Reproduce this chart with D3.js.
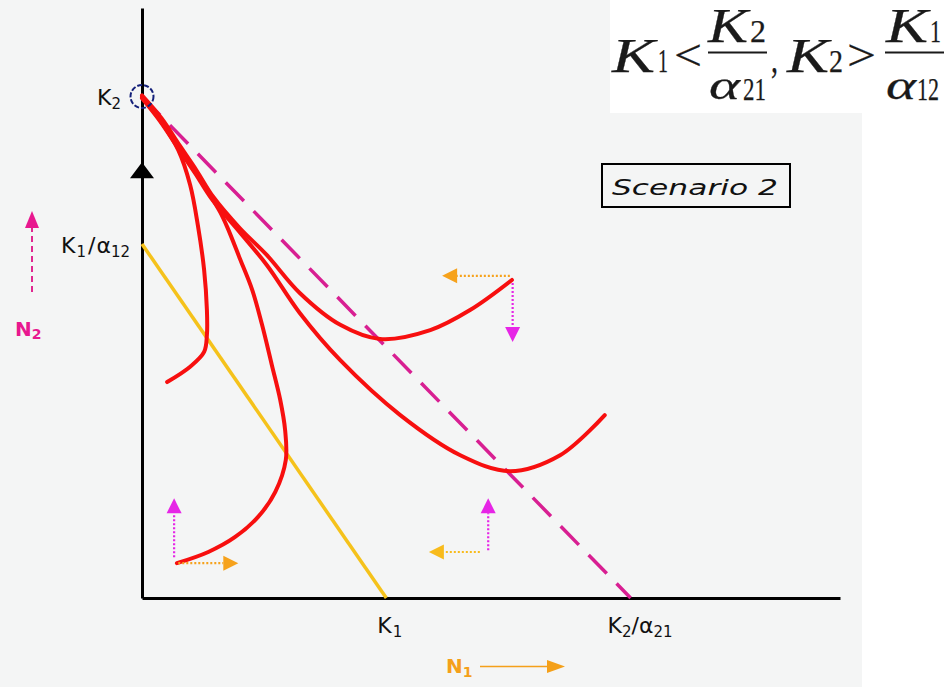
<!DOCTYPE html>
<html lang="en">
<head>
  <meta charset="UTF-8">
  <title>Competition phase plane - scenario 2</title>
  <script src="https://d3js.org/d3.v7.min.js"></script>
  <style>
    body { margin: 0; background: #fff; }
    svg { display: block; }
  </style>
</head>
<body>
<script>
  // carrying capacities / isocline intercepts (arbitrary N units)
  const K1 = 3.5
  const K2 = 8.5
  const K1overA12 = 6
  const K2overA21 = 7

  // red trajectories, [N1, N2], all ending at (0, K2)
  const traj1 = [[0.36,3.66],[0.69,3.92],[0.89,4.17],[0.93,4.46],[0.93,4.88],[0.89,5.56],[0.80,6.32],[0.69,7.0],[0.52,7.59],[0.26,8.10],[0,8.49]]
  const traj2 = [[0.50,0.59],[0.95,0.78],[1.33,1.03],[1.66,1.37],[1.91,1.80],[2.06,2.34],[2.05,2.85],[1.98,3.36],[1.86,3.95],[1.72,4.63],[1.58,5.22],[1.40,5.76],[1.22,6.29],[1.12,6.54],[1.0,6.78],[0.76,7.22],[0.52,7.64],[0.26,8.10],[0,8.49]]
  const traj3 = [[5.30,5.39],[4.70,4.88],[4.13,4.54],[3.41,4.39],[2.84,4.63],[2.26,5.17],[1.79,5.81],[1.40,6.27],[1.02,6.80],[0.78,7.25],[0.54,7.67],[0.28,8.13],[0,8.52]]
  const traj4 = [[6.63,3.10],[5.99,2.42],[5.27,2.15],[4.56,2.42],[3.70,3.10],[2.84,4.03],[2.26,4.83],[1.79,5.64],[1.40,6.20],[1.0,6.76],[0.76,7.20],[0.52,7.62],[0.26,8.08],[0,8.47]]

  // little dotted direction arrows: from -> tip
  const dirArrows = [
    { from: [5.27, 5.46], to: [4.30, 5.46], color: '#f6a21c' },
    { from: [5.31, 5.34], to: [5.31, 4.34], color: '#e625e6' },
    { from: [0.46, 0.69], to: [0.46, 1.69], color: '#e625e6' },
    { from: [0.52, 0.59], to: [1.38, 0.59], color: '#f6a21c' },
    { from: [4.96, 0.81], to: [4.96, 1.69], color: '#e625e6' },
    { from: [4.84, 0.78], to: [4.11, 0.78], color: '#f8bb1c' }
  ]

  const N2marker = 7.25   // black arrow head on the N2 axis

  const width = 949
  const height = 687

  const svg = d3.select('body').append('svg')
    .attr('width', width).attr('height', height)
    .attr('viewBox', [0, 0, width, height])

  svg.append('rect').attr('width', 862).attr('height', height).attr('fill', '#f4f5f5')

  const x = d3.scaleLinear().domain([0, 10]).range([142, 840])
  const y = d3.scaleLinear().domain([0, 10]).range([598, 8])

  const font = '"DejaVu Sans", sans-serif'

  // axes (plain lines, no ticks)
  svg.append('g')
    .attr('transform', `translate(0,${y(0)})`)
    .call(d3.axisBottom(x).ticks(0).tickSizeOuter(0))
    .call(g => g.select('.domain').attr('stroke', '#000').attr('stroke-width', 3))
  svg.append('g')
    .attr('transform', `translate(${x(0)},0)`)
    .call(d3.axisLeft(y).ticks(0).tickSizeOuter(0))
    .call(g => g.select('.domain').attr('stroke', '#000').attr('stroke-width', 3))

  // N1 isocline (yellow) and N2 isocline (magenta dashed)
  svg.append('line')
    .attr('x1', x(0)).attr('y1', y(K1overA12))
    .attr('x2', x(K1)).attr('y2', y(0))
    .attr('stroke', '#f5c21b').attr('stroke-width', 3.5)
  svg.append('line')
    .attr('x1', x(0)).attr('y1', y(K2))
    .attr('x2', x(K2overA21)).attr('y2', y(0))
    .attr('stroke', '#d81f92').attr('stroke-width', 3.5)
    .attr('stroke-dasharray', '26,14')

  // trajectories
  const line = d3.line().x(d => x(d[0])).y(d => y(d[1])).curve(d3.curveCatmullRom.alpha(0.5))
  svg.append('g')
    .attr('fill', 'none').attr('stroke', '#f70f0f').attr('stroke-width', 4)
    .attr('stroke-linecap', 'round')
    .selectAll('path')
    .data([traj1, traj2, traj3, traj4])
    .join('path')
    .attr('d', line)

  // equilibrium circle at K2
  svg.append('circle')
    .attr('cx', x(0)).attr('cy', y(K2)).attr('r', 11.5)
    .attr('fill', 'none').attr('stroke', '#14207a').attr('stroke-width', 2)
    .attr('stroke-dasharray', '5,2')

  // black arrow head on N2 axis
  const ty = y(N2marker)
  svg.append('path')
    .attr('d', `M${x(0) - 12},${ty + 8}L${x(0)},${ty - 8}L${x(0) + 12},${ty + 8}Z`)
    .attr('fill', '#000')

  // direction arrows
  const headLen = 15, headW = 7.5
  dirArrows.forEach(a => {
    const x0 = x(a.from[0]), y0 = y(a.from[1]), x1 = x(a.to[0]), y1 = y(a.to[1])
    const len = Math.hypot(x1 - x0, y1 - y0)
    const ux = (x1 - x0) / len, uy = (y1 - y0) / len
    const bx = x1 - ux * headLen, by = y1 - uy * headLen
    svg.append('line')
      .attr('x1', x0).attr('y1', y0).attr('x2', bx).attr('y2', by)
      .attr('stroke', a.color).attr('stroke-width', 2.2).attr('stroke-dasharray', '2,2')
    svg.append('path')
      .attr('d', `M${x1},${y1}L${bx - uy * headW},${by + ux * headW}L${bx + uy * headW},${by - ux * headW}Z`)
      .attr('fill', a.color)
  })

  // axis labels with subscripts
  function subLabel(px, py, anchor, parts) {
    const t = svg.append('text')
      .attr('x', px).attr('y', py)
      .attr('text-anchor', anchor)
      .attr('font-family', font).attr('font-size', 22).attr('fill', '#111')
    parts.forEach(p => {
      t.append('tspan')
        .attr('font-size', p.sub ? 15 : 22)
        .attr('dy', p.dy || 0)
        .attr('dx', p.dx || 0)
        .text(p.t)
    })
    return t
  }
  subLabel(x(0) - 21, y(K2) + 8, 'end', [{ t: 'K' }, { t: '2', sub: true, dy: 4 }])
  subLabel(x(0) - 12, y(K1overA12) + 9, 'end', [{ t: 'K' }, { t: '1', sub: true, dy: 4, dx: 1 }, { t: '/', dy: -4, dx: 2 }, { t: 'α', dx: 1 }, { t: '12', sub: true, dy: 4 }])
  subLabel(x(K1) - 9, 633, 'start', [{ t: 'K' }, { t: '1', sub: true, dy: 4, dx: 1 }])
  subLabel(x(K2overA21) - 23, 633, 'start', [{ t: 'K' }, { t: '2', sub: true, dy: 4 }, { t: '/', dy: -4 }, { t: 'α' }, { t: '21', sub: true, dy: 4 }])

  // N2 label + dashed up arrow
  svg.append('line').attr('x1', 32).attr('y1', 292).attr('x2', 32).attr('y2', 226)
    .attr('stroke', '#e0288f').attr('stroke-width', 2).attr('stroke-dasharray', '6,4')
  svg.append('path').attr('d', 'M25,228L32,211L39,228Z').attr('fill', '#e8188f')
  const n2 = svg.append('text').attr('x', 15).attr('y', 336)
    .attr('font-family', font).attr('font-weight', 'bold').attr('font-size', 20).attr('fill', '#e8188f')
  n2.append('tspan').text('N')
  n2.append('tspan').attr('font-size', 14).attr('dy', 3).text('2')

  // N1 label + arrow
  const n1 = svg.append('text').attr('x', 446).attr('y', 673)
    .attr('font-family', font).attr('font-weight', 'bold').attr('font-size', 20).attr('fill', '#f4a01a')
  n1.append('tspan').text('N')
  n1.append('tspan').attr('font-size', 14).attr('dy', 4).text('1')
  svg.append('line').attr('x1', 480).attr('y1', 666.5).attr('x2', 550).attr('y2', 666.5)
    .attr('stroke', '#f4a01a').attr('stroke-width', 1.6)
  svg.append('path').attr('d', 'M547,660L565,666.5L547,673Z').attr('fill', '#f4a01a')

  // Scenario box
  svg.append('rect').attr('x', 602).attr('y', 164).attr('width', 188).attr('height', 43)
    .attr('fill', 'none').attr('stroke', '#000').attr('stroke-width', 2)
  svg.append('text').attr('x', 612).attr('y', 195)
    .attr('font-family', '"DejaVu Sans", sans-serif').attr('font-style', 'italic')
    .attr('font-size', 22).attr('fill', '#111')
    .attr('textLength', 166).attr('lengthAdjust', 'spacingAndGlyphs')
    .text('Scenario 2')

  // condition formula (top right), each glyph stretched to the width it has in the picture
  svg.append('rect').attr('x', 610).attr('y', 0).attr('width', 339).attr('height', 113).attr('fill', '#fff')
  const serif = '"Liberation Serif", "Times New Roman", serif'
  const f = svg.append('g').attr('font-family', serif).attr('fill', '#1a1a1a')
    .attr('stroke', '#1a1a1a').attr('stroke-width', 0.25)
  const glyph = (gx, gy, s, size, w, italic) => f.append('text')
    .attr('x', gx).attr('y', gy).attr('font-size', size)
    .attr('font-style', italic ? 'italic' : 'normal')
    .attr('textLength', w).attr('lengthAdjust', 'spacingAndGlyphs')
    .text(s)
  glyph(612, 72, 'K', 48, 43, true)
  glyph(658, 72, '1', 34, 10)
  glyph(674, 70, '<', 44, 28)
  glyph(708, 42, 'K', 48, 40, true)
  glyph(750, 42, '2', 32, 16)
  glyph(709, 99, 'α', 40, 31, true)
  glyph(743, 100, '21', 32, 23)
  glyph(771, 72, ',', 40, 7)
  glyph(787, 72, 'K', 48, 42, true)
  glyph(829, 72, '2', 32, 14)
  glyph(847, 70, '>', 44, 29)
  glyph(886, 42, 'K', 48, 42, true)
  glyph(930, 42, '1', 32, 11)
  glyph(886, 99, 'α', 40, 30, true)
  glyph(917, 100, '12', 32, 22)
  f.append('line').attr('x1', 708).attr('y1', 52.5).attr('x2', 767).attr('y2', 52.5).attr('stroke-width', 2)
  f.append('line').attr('x1', 885).attr('y1', 52.5).attr('x2', 944).attr('y2', 52.5).attr('stroke-width', 2)
</script>
</body>
</html>
